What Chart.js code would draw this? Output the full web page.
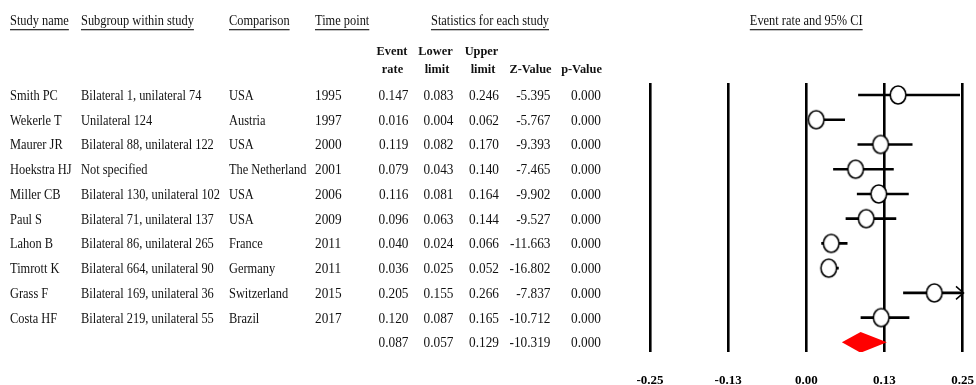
<!DOCTYPE html>
<html>
<head>
<meta charset="utf-8">
<title>Forest plot – event rate and 95% CI</title>
<script src="https://cdn.jsdelivr.net/npm/chart.js@4.4.1/dist/chart.umd.min.js"></script>
<style>
  html, body { margin: 0; padding: 0; background: #fff; }
  #wrap { width: 976px; height: 385px; }
</style>
</head>
<body>
<div id="wrap"><canvas id="forest" width="976" height="385"></canvas></div>
<script>
// ---- Study table -------------------------------------------------------
const studyNames  = ['Smith PC', 'Wekerle T', 'Maurer JR', 'Hoekstra HJ', 'Miller CB',
                     'Paul S', 'Lahon B', 'Timrott K', 'Grass F', 'Costa HF'];
const subgroups   = ['Bilateral 1, unilateral 74', 'Unilateral 124', 'Bilateral 88, unilateral 122',
                     'Not specified', 'Bilateral 130, unilateral 102', 'Bilateral 71, unilateral 137',
                     'Bilateral 86, unilateral 265', 'Bilateral 664, unilateral 90',
                     'Bilateral 169, unilateral 36', 'Bilateral 219, unilateral 55'];
const comparisons = ['USA', 'Austria', 'USA', 'The Netherland', 'USA', 'USA',
                     'France', 'Germany', 'Switzerland', 'Brazil'];
const timePoints  = ['1995', '1997', '2000', '2001', '2006', '2009', '2011', '2011', '2015', '2017'];

const eventRates  = [0.147, 0.016, 0.119, 0.079, 0.116, 0.096, 0.040, 0.036, 0.205, 0.120];
const lowerLimits = [0.083, 0.004, 0.082, 0.043, 0.081, 0.063, 0.024, 0.025, 0.155, 0.087];
const upperLimits = [0.246, 0.062, 0.170, 0.140, 0.164, 0.144, 0.066, 0.052, 0.266, 0.165];
const zValues     = [-5.395, -5.767, -9.393, -7.465, -9.902, -9.527, -11.663, -16.802, -7.837, -10.712];
const pValues     = [0.000, 0.000, 0.000, 0.000, 0.000, 0.000, 0.000, 0.000, 0.000, 0.000];

// Pooled estimate
const summaryRate  = 0.087;
const summaryLower = 0.057;
const summaryUpper = 0.129;
const summaryZ     = -10.319;
const summaryP     = 0.000;

// Axis
const tickValues = [-0.25, -0.125, 0, 0.125, 0.25];
const tickLabels = ['-0.25', '-0.13', '0.00', '0.13', '0.25'];
const axisMin = -0.25, axisMax = 0.25;

// ---- Drawing helpers ---------------------------------------------------
const SERIF = '"Liberation Serif", "Times New Roman", serif';
const TEXT_COLOR = '#111';
const summaryRow = studyNames.length;

// Open ellipse marker for each study estimate
function makeMarker() {
  const c = document.createElement('canvas');
  c.width = 20; c.height = 22;
  const g = c.getContext('2d');
  g.beginPath();
  g.ellipse(10, 11, 7.8, 9, 0, 0, Math.PI * 2);
  g.fillStyle = '#fff';
  g.fill();
  g.lineWidth = 1.6;
  g.strokeStyle = '#000';
  g.stroke();
  return c;
}
const marker = makeMarker();

// Confidence-interval segments, one per study
const ciDatasets = studyNames.map((name, i) => ({
  type: 'line',
  label: name + ' 95% CI',
  data: [{ x: lowerLimits[i], y: i }, { x: upperLimits[i], y: i }],
  borderColor: '#000',
  borderWidth: 2.6,
  pointRadius: 0,
  fill: false,
  clip: { left: false, top: false, right: 0, bottom: false },
  order: 2
}));

// Diamond for the pooled estimate (half height in row units)
const diamondHalf = 0.42;
const summaryDataset = {
  type: 'line',
  label: 'Pooled',
  data: [
    { x: summaryLower, y: summaryRow },
    { x: summaryRate,  y: summaryRow - diamondHalf },
    { x: summaryUpper, y: summaryRow },
    { x: summaryRate,  y: summaryRow + diamondHalf },
    { x: summaryLower, y: summaryRow }
  ],
  borderWidth: 0,
  borderColor: 'rgba(0,0,0,0)',
  backgroundColor: '#ff0000',
  pointRadius: 0,
  tension: 0,
  fill: 'shape',
  order: 3
};

const pointDataset = {
  type: 'scatter',
  label: 'Event rate',
  data: eventRates.map((r, i) => ({ x: r, y: i })),
  pointStyle: marker,
  pointRadius: 8,
  order: 1
};

// narrow-set serif text (horizontal squeeze sx)
function drawText(ctx, text, x, y, align, font, sx) {
  ctx.save();
  ctx.font = font;
  ctx.textAlign = align;
  ctx.translate(x, y);
  ctx.scale(sx, 1);
  ctx.fillText(text, 0, 0);
  const w = ctx.measureText(text).width * sx;
  ctx.restore();
  return w;
}

// Table columns, header text and arrowheads for truncated intervals
const tablePlugin = {
  id: 'forestTable',
  afterDraw(chart) {
    const { ctx, chartArea } = chart;
    const xs = chart.scales.x, ys = chart.scales.y;
    ctx.save();
    ctx.fillStyle = TEXT_COLOR;
    ctx.textBaseline = 'alphabetic';

    const textFont = '14px ' + SERIF;
    const textSx = 0.885;
    const numFont = '14px ' + SERIF;
    const numSx = 0.95;

    // underlined column titles
    const underlined = (text, x, align) => {
      const w = drawText(ctx, text, x, 25, align, textFont, textSx);
      const x0 = align === 'center' ? x - w / 2 : x;
      ctx.fillStyle = '#333';
      ctx.fillRect(x0, 29, w, 1.3);
      ctx.fillStyle = TEXT_COLOR;
    };
    underlined('Study name', 10, 'left');
    underlined('Subgroup within study', 81, 'left');
    underlined('Comparison', 229, 'left');
    underlined('Time point', 315, 'left');
    underlined('Statistics for each study', 431, 'left');
    underlined('Event rate and 95% CI', (chartArea.left + chartArea.right) / 2, 'center');

    // bold statistic headers
    const boldFont = 'bold 13px ' + SERIF;
    const bsx = 0.95;
    drawText(ctx, 'Event', 392, 55, 'center', boldFont, bsx);
    drawText(ctx, 'rate', 392.5, 72.5, 'center', boldFont, bsx);
    drawText(ctx, 'Lower', 435.5, 55, 'center', boldFont, bsx);
    drawText(ctx, 'limit', 437, 72.5, 'center', boldFont, bsx);
    drawText(ctx, 'Upper', 481.5, 55, 'center', boldFont, bsx);
    drawText(ctx, 'limit', 483, 72.5, 'center', boldFont, bsx);
    drawText(ctx, 'Z-Value', 530.5, 72.5, 'center', boldFont, bsx);
    drawText(ctx, 'p-Value', 581.5, 72.5, 'center', boldFont, bsx);

    // study rows
    const numCols = [408.5, 453.5, 499, 550.5, 601];
    const drawNums = (vals, y) => {
      vals.forEach((v, k) => drawText(ctx, v.toFixed(3), numCols[k], y, 'right', numFont, numSx));
    };
    studyNames.forEach((name, i) => {
      const y = ys.getPixelForValue(i) + 5;
      drawText(ctx, name, 10, y, 'left', textFont, textSx);
      drawText(ctx, subgroups[i], 81, y, 'left', textFont, textSx);
      drawText(ctx, comparisons[i], 229, y, 'left', textFont, textSx);
      drawText(ctx, timePoints[i], 315, y, 'left', numFont, numSx);
      drawNums([eventRates[i], lowerLimits[i], upperLimits[i], zValues[i], pValues[i]], y);
    });
    drawNums([summaryRate, summaryLower, summaryUpper, summaryZ, summaryP],
             ys.getPixelForValue(summaryRow) + 5);

    // arrowheads where an interval runs past the axis
    ctx.strokeStyle = '#000';
    ctx.lineWidth = 1.5;
    upperLimits.forEach((u, i) => {
      if (u <= axisMax) return;
      const x = xs.getPixelForValue(axisMax) + 1;
      const y = ys.getPixelForValue(i);
      ctx.beginPath();
      ctx.moveTo(x - 7.5, y - 6.5);
      ctx.lineTo(x, y);
      ctx.lineTo(x - 7.5, y + 6.5);
      ctx.stroke();
    });
    ctx.restore();
  }
};

new Chart(document.getElementById('forest'), {
  type: 'scatter',
  data: { datasets: [summaryDataset, ...ciDatasets, pointDataset] },
  options: {
    responsive: false,
    animation: false,
    events: [],
    layout: { padding: { left: 650, right: 13.5, top: 83, bottom: 0 } },
    plugins: {
      legend: { display: false },
      tooltip: { enabled: false }
    },
    scales: {
      x: {
        type: 'linear',
        min: axisMin,
        max: axisMax,
        afterBuildTicks(scale) { scale.ticks = tickValues.map(v => ({ value: v })); },
        afterFit(scale) {
          scale.height = 33;
          scale.paddingLeft = 0;
          scale.paddingRight = 0;
        },
        border: { display: false },
        grid: { color: '#000', lineWidth: 2.6, drawTicks: false },
        ticks: {
          padding: 21,
          color: '#000',
          maxRotation: 0,
          autoSkip: false,
          font: { family: SERIF, size: 13, weight: 'bold' },
          callback: (v, i) => tickLabels[i]
        }
      },
      y: {
        type: 'linear',
        display: false,
        reverse: true,
        min: -0.485,
        max: 10.39
      }
    }
  },
  plugins: [tablePlugin]
});
</script>
</body>
</html>
